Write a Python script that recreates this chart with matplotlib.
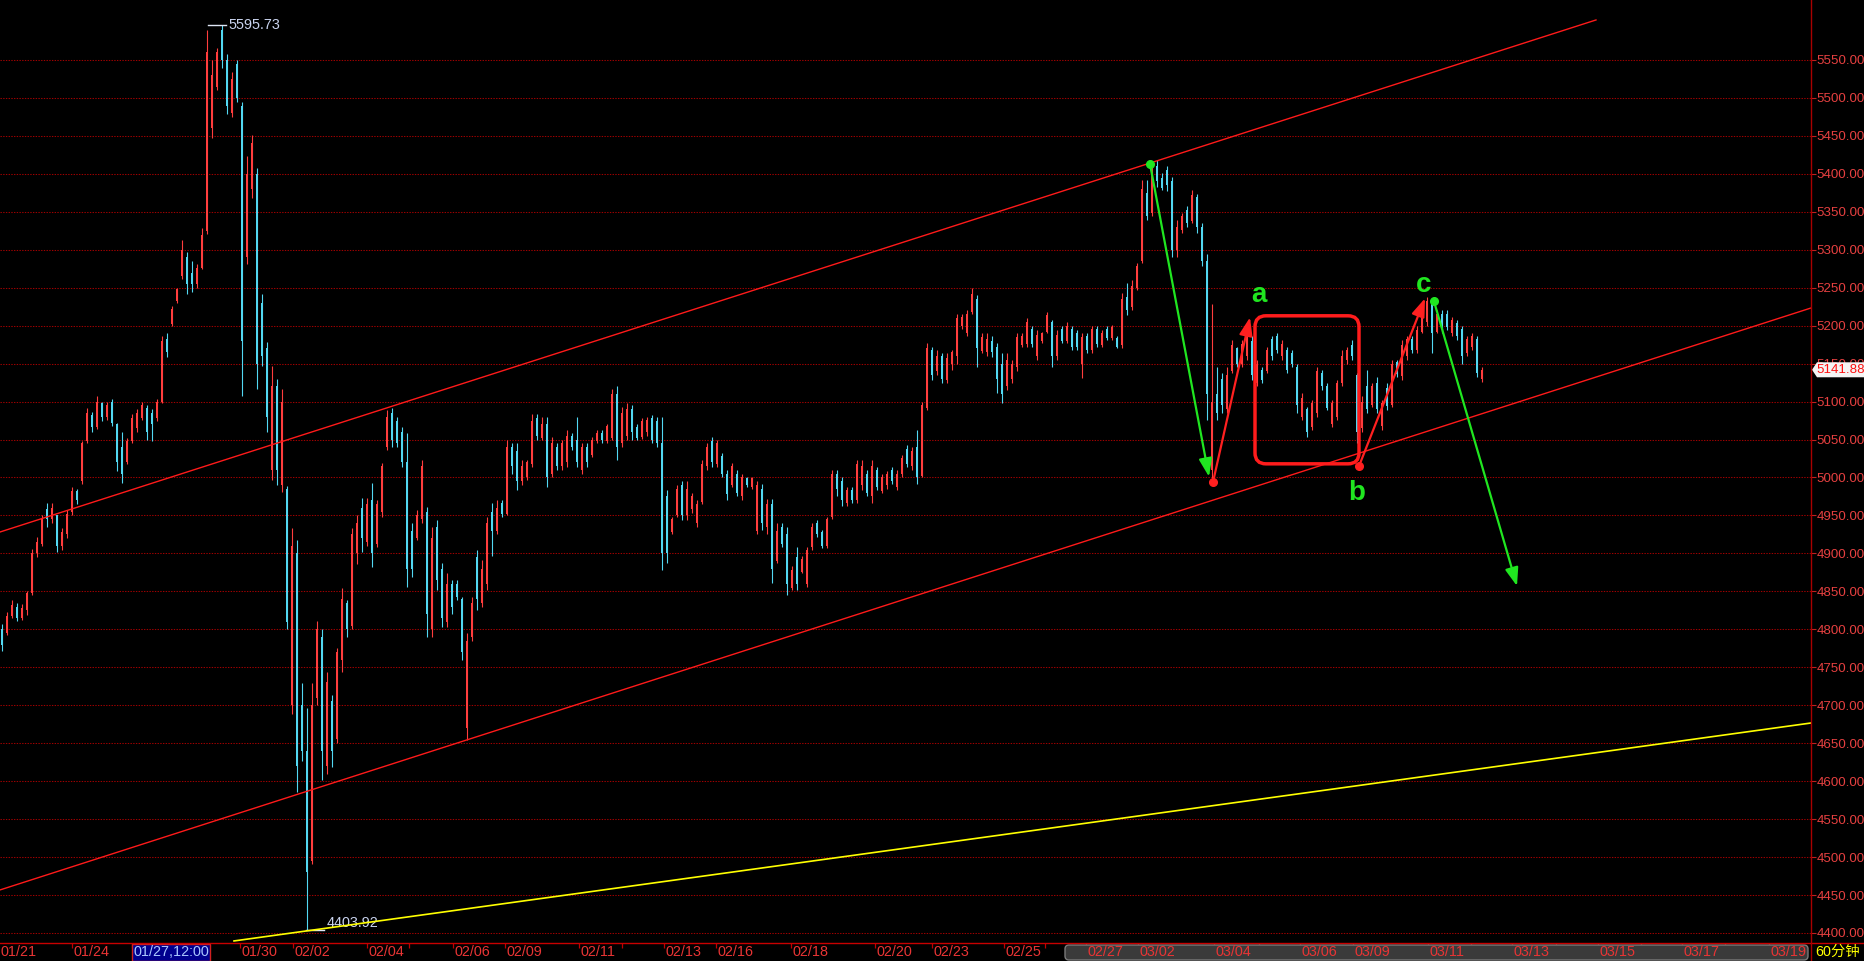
import matplotlib
matplotlib.use('Agg')
import matplotlib.pyplot as plt
import numpy as np
from matplotlib.patches import FancyBboxPatch, Rectangle, Polygon
from matplotlib.lines import Line2D
from matplotlib.ticker import FormatStrFormatter
from matplotlib.transforms import blended_transform_factory, IdentityTransform

plt.rcParams['font.family'] = ['Liberation Sans', 'Noto Sans CJK SC', 'DejaVu Sans']

# ---------------- data (60-minute bars) ----------------
opens = [4800, 4795, 4818, 4830, 4815, 4825, 4848, 4900, 4912, 4958, 4945, 4950, 4910, 4925, 4955, 4982,
         4995, 5048, 5082, 5066, 5098, 5080, 5100, 5070, 5040, 5020, 5048, 5065, 5078, 5092, 5085, 5078,
         5100, 5182, 5202, 5232, 5266, 5290, 5270, 5255, 5276, 5325, 5460, 5515, 5590, 5550, 5480, 5545,
         5490, 5290, 5380, 5400, 5230, 5170, 5010, 5120, 4990, 4985, 4700, 4900, 4700, 4640, 4495, 4710,
         4790, 4620, 4705, 4655, 4760, 4835, 4805, 4900, 4960, 4915, 4970, 4912, 4955, 5040, 5085, 5075,
         5060, 5020, 4930, 4920, 4945, 4955, 4800, 4935, 4880, 4810, 4860, 4860, 4840, 4670, 4790, 4895,
         4835, 4860, 4955, 4930, 4966, 4952, 5040, 5035, 4995, 5000, 5018, 5078, 5052, 5070, 5005, 5040,
         5015, 5020, 5055, 5050, 5010, 5040, 5030, 5048, 5058, 5048, 5052, 5110, 5045, 5055, 5090, 5066,
         5054, 5060, 5078, 5075, 5045, 4975, 4928, 4950, 4990, 4950, 4958, 4940, 4968, 5015, 5048, 5018,
         5028, 5005, 4990, 5005, 4975, 4999, 4988, 4930, 4985, 4935, 4965, 4890, 4935, 4925, 4855, 4895,
         4876, 4860, 4908, 4940, 4928, 4910, 4948, 5005, 4995, 4966, 4984, 4970, 4990, 5005, 4975, 5010,
         4982, 4990, 5010, 4988, 5004, 5038, 5015, 5040, 5002, 5092, 5168, 5140, 5160, 5128, 5150, 5160,
         5200, 5190, 5218, 5235, 5166, 5165, 5180, 5172, 5150, 5120, 5130, 5145, 5175, 5176, 5196, 5160,
         5180, 5192, 5205, 5160, 5195, 5180, 5196, 5190, 5150, 5186, 5168, 5195, 5175, 5195, 5184, 5184,
         5174, 5238, 5225, 5250, 5285, 5375, 5348, 5410, 5395, 5405, 5390, 5300, 5326, 5352, 5338, 5370,
         5330, 5285, 5010, 5110, 5130, 5090, 5140, 5170, 5150, 5160, 5180, 5125, 5142, 5140, 5182, 5186,
         5160, 5168, 5164, 5145, 5080, 5090, 5066, 5085, 5138, 5120, 5070, 5080, 5124, 5155, 5175, 5135,
         5065, 5120, 5095, 5125, 5068, 5118, 5096, 5152, 5134, 5160, 5182, 5168, 5192, 5205, 5230, 5192,
         5215, 5216, 5190, 5204, 5195, 5164, 5172, 5182, 5130]
highs = [4807, 4823, 4839, 4835, 4833, 4851, 4906, 4922, 4950, 4966, 4967, 4950, 4934, 4957, 4987, 4985,
         5048, 5092, 5086, 5108, 5100, 5100, 5104, 5072, 5060, 5052, 5084, 5090, 5100, 5096, 5090, 5104,
         5187, 5190, 5226, 5250, 5313, 5297, 5285, 5281, 5329, 5590, 5550, 5566, 5595.73, 5558, 5534, 5550,
         5495, 5424, 5451, 5408, 5242, 5179, 5147, 5130, 5116, 4989, 4934, 4918, 4729, 4697, 4729, 4811,
         4800, 4744, 4713, 4776, 4855, 4839, 4934, 4950, 4973, 4973, 4993, 4970, 5019, 5089, 5091, 5080,
         5067, 5058, 4940, 4957, 5023, 4961, 4935, 4944, 4887, 4874, 4865, 4865, 4843, 4795, 4843, 4904,
         4891, 4948, 4966, 4970, 4970, 5049, 5045, 5045, 5023, 5023, 5084, 5084, 5080, 5080, 5054, 5045,
         5050, 5062, 5058, 5080, 5045, 5045, 5054, 5062, 5062, 5071, 5117, 5120, 5093, 5098, 5095, 5071,
         5078, 5080, 5082, 5080, 5080, 4983, 4948, 4990, 4996, 4996, 4979, 4970, 5023, 5045, 5054, 5050,
         5032, 5010, 5019, 5010, 5005, 5001, 5001, 4996, 4992, 4972, 4972, 4940, 4940, 4935, 4883, 4909,
         4896, 4909, 4940, 4944, 4931, 4948, 5010, 5010, 5001, 4988, 4988, 5023, 5023, 5010, 5023, 5014,
         5005, 5008, 5014, 5010, 5030, 5043, 5040, 5063, 5100, 5177, 5172, 5168, 5164, 5164, 5168, 5216,
         5216, 5221, 5249, 5240, 5190, 5190, 5186, 5177, 5164, 5164, 5155, 5190, 5190, 5210, 5199, 5194,
         5192, 5218, 5207, 5194, 5199, 5205, 5199, 5194, 5190, 5190, 5199, 5199, 5194, 5199, 5201, 5186,
         5243, 5256, 5260, 5282, 5392, 5392, 5414, 5418, 5401, 5410, 5396, 5339, 5348, 5357, 5379, 5374,
         5335, 5295, 5229, 5146, 5137, 5146, 5181, 5172, 5181, 5190, 5186, 5155, 5146, 5172, 5186, 5190,
         5181, 5172, 5168, 5150, 5111, 5093, 5102, 5146, 5142, 5124, 5102, 5129, 5168, 5172, 5181, 5137,
         5107, 5142, 5124, 5133, 5102, 5124, 5155, 5155, 5181, 5186, 5186, 5199, 5216, 5238, 5234, 5221,
         5221, 5221, 5212, 5208, 5199, 5186, 5190, 5186, 5146]
lows = [4772, 4792, 4815, 4811, 4812, 4819, 4845, 4895, 4910, 4935, 4940, 4902, 4905, 4920, 4950, 4965,
        4992, 5045, 5060, 5064, 5074, 5076, 5068, 5009, 4993, 5018, 5045, 5060, 5076, 5050, 5048, 5075,
        5098, 5159, 5200, 5230, 5262, 5242, 5245, 5250, 5274, 5321, 5447, 5510, 5540, 5479, 5475, 5495,
        5108, 5281, 5368, 5116, 5147, 5060, 4997, 4990, 4981, 4800, 4689, 4586, 4626, 4403.92, 4491, 4700,
        4602, 4610, 4618, 4650, 4744, 4790, 4800, 4886, 4902, 4910, 4882, 4909, 4948, 5036, 5040, 5040,
        5014, 4856, 4869, 4918, 4940, 4790, 4790, 4852, 4803, 4803, 4820, 4838, 4760, 4654, 4785, 4825,
        4830, 4852, 4896, 4926, 4948, 4950, 5005, 4983, 4990, 4997, 5014, 5049, 5049, 4988, 5000, 5010,
        5010, 5014, 5036, 5014, 5005, 5014, 5027, 5045, 5045, 5045, 5049, 5023, 5040, 5049, 5050, 5049,
        5051, 5055, 5045, 5040, 4878, 4887, 4926, 4948, 4944, 4944, 4953, 4935, 4965, 5010, 5014, 5014,
        5001, 4970, 4988, 4975, 4970, 4988, 4985, 4926, 4931, 4926, 4861, 4887, 4909, 4845, 4852, 4852,
        4874, 4856, 4905, 4922, 4907, 4907, 4945, 4975, 4962, 4962, 4966, 4966, 4983, 4975, 4966, 4983,
        4979, 4985, 4992, 4983, 5001, 5014, 5010, 4992, 5000, 5089, 5128, 5135, 5124, 5124, 5142, 5150,
        5195, 5186, 5215, 5146, 5164, 5160, 5159, 5111, 5098, 5115, 5124, 5140, 5172, 5172, 5172, 5155,
        5177, 5190, 5146, 5155, 5177, 5177, 5168, 5168, 5131, 5164, 5164, 5172, 5172, 5181, 5181, 5170,
        5170, 5214, 5221, 5247, 5282, 5339, 5344, 5383, 5379, 5377, 5291, 5291, 5322, 5330, 5335, 5322,
        5278, 5076, 4997, 5076, 5085, 5085, 5137, 5146, 5146, 5155, 5129, 5120, 5124, 5137, 5155, 5164,
        5155, 5137, 5146, 5085, 5076, 5054, 5063, 5080, 5115, 5089, 5067, 5076, 5120, 5150, 5155, 5045,
        5060, 5085, 5093, 5085, 5063, 5089, 5093, 5133, 5129, 5155, 5164, 5164, 5190, 5199, 5164, 5190,
        5190, 5194, 5186, 5181, 5150, 5160, 5168, 5133, 5126]
closes = [4780, 4818, 4832, 4815, 4828, 4848, 4900, 4915, 4945, 4945, 4960, 4910, 4928, 4952, 4982, 4970,
          5045, 5085, 5066, 5100, 5080, 5095, 5072, 5020, 5005, 5048, 5078, 5085, 5096, 5060, 5070, 5100,
          5180, 5165, 5222, 5248, 5300, 5255, 5255, 5276, 5320, 5560, 5530, 5560, 5550, 5490, 5525, 5500,
          5180, 5400, 5440, 5150, 5160, 5080, 5120, 5010, 5100, 4810, 4910, 4620, 4640, 4480, 4700, 4800,
          4640, 4730, 4640, 4770, 4840, 4800, 4925, 4940, 4920, 4965, 4900, 4965, 5015, 5080, 5050, 5045,
          5020, 4880, 4880, 4950, 5015, 4820, 4920, 4865, 4815, 4860, 4830, 4842, 4770, 4785, 4835, 4840,
          4880, 4940, 4930, 4960, 4952, 5040, 5015, 4995, 5015, 5020, 5075, 5055, 5070, 5000, 5045, 5015,
          5045, 5055, 5040, 5020, 5040, 5020, 5050, 5058, 5050, 5068, 5110, 5040, 5085, 5090, 5060, 5052,
          5074, 5076, 5050, 5045, 4900, 4900, 4945, 4985, 4950, 4985, 4975, 4965, 5018, 5040, 5020, 5045,
          5005, 4978, 5015, 4980, 5000, 4990, 4999, 4990, 4940, 4965, 4880, 4930, 4912, 4860, 4878, 4860,
          4892, 4905, 4935, 4925, 4910, 4945, 5005, 4985, 4970, 4984, 4970, 5018, 5015, 4980, 5015, 4988,
          5000, 5004, 4995, 5005, 5026, 5018, 5035, 5000, 5095, 5170, 5135, 5160, 5130, 5158, 5165, 5210,
          5212, 5215, 5242, 5170, 5185, 5182, 5165, 5130, 5110, 5155, 5150, 5185, 5186, 5205, 5176, 5188,
          5190, 5214, 5160, 5188, 5180, 5200, 5172, 5172, 5185, 5168, 5195, 5176, 5190, 5184, 5198, 5172,
          5235, 5220, 5252, 5278, 5380, 5345, 5405, 5390, 5382, 5385, 5300, 5330, 5345, 5335, 5372, 5330,
          5285, 5110, 5100, 5085, 5095, 5135, 5175, 5150, 5176, 5186, 5135, 5150, 5128, 5168, 5160, 5168,
          5176, 5142, 5150, 5095, 5105, 5060, 5098, 5140, 5120, 5092, 5098, 5124, 5160, 5168, 5160, 5060,
          5100, 5090, 5120, 5090, 5098, 5094, 5150, 5136, 5175, 5182, 5168, 5194, 5212, 5232, 5190, 5215,
          5196, 5198, 5208, 5186, 5160, 5182, 5186, 5138, 5141.88]

# date axis: bar index where each day starts, and its label
day_ticks = [-2.6, 14.0, 26.0, 47.6, 58.2, 73.0, 81.4, 90.2, 100.6, 115.4, 124.0, 132.4, 142.8, 157.8,
             174.6, 186.0, 200.4, 208.6, 216.8, 227.2, 242.4, 251.4, 259.6, 270.2, 285.2, 293.8, 302.0,
             310.8, 319.2, 327.8, 336.0, 344.6, 353.4]
day_labels = ["01/21", "01/24", "", "01/30", "02/02", "02/04", "", "02/06", "02/09", "02/11", "",
              "02/13", "02/16", "02/18", "02/20", "02/23", "02/25", "", "02/27", "03/02", "03/04", "",
              "03/06", "03/09", "03/11", "", "03/13", "", "03/15", "", "03/17", "", "03/19"]
price_ticks = [4400, 4450, 4500, 4550, 4600, 4650, 4700, 4750, 4800, 4850, 4900, 4950, 5000, 5050,
               5100, 5150, 5200, 5250, 5300, 5350, 5400, 5450, 5500, 5550]

last_price = 5141.88
cursor_label = "01/27,12:00"
cursor_span = (26.0, 41.6)
period_label = "60分钟"

# hand-drawn annotations (bar index, price)
upper_channel = [(-0.4, 4928.2), (318.8, 5602.7)]
lower_channel = [(-0.4, 4456.7), (361.8, 5223.3)]
support_line = [(46.4, 4389.5), (361.8, 4676.6)]
green_top = (229.6, 5413)
green_tip1 = (241.4, 5001)
red_low = (242.2, 4994)
red_tip_a = (249.6, 5211)
label_a = (251.4, 5231)
box_range = (250.6, 5018, 271.4, 5213)
red_b = (271.4, 5015)
label_b = (271.0, 4970)
red_tip_c = (284.6, 5236)
label_c = (284.4, 5244)
green_c = (286.4, 5232)
green_tip2 = (303.0, 4857)

# ---------------- figure ----------------
W, H = 1865, 961
XLIM = (-0.4, 361.8)
fig = plt.figure(figsize=(W / 100, H / 100), dpi=100, facecolor='black')
ax = fig.add_axes([0, 18 / H, 1811 / W, 943 / H])
ax.set_facecolor('black')
for s in ax.spines.values():
    s.set_visible(False)

UP, DOWN = '#ff3d3d', '#52d8f2'
o = np.array(opens, float); h = np.array(highs, float)
l = np.array(lows, float); c = np.array(closes, float)
x = np.arange(len(o))
cols = np.where(c >= o, UP, DOWN)

# axes / grid
ax.set_yticks(price_ticks)
ax.yaxis.tick_right()
ax.yaxis.set_major_formatter(FormatStrFormatter('%.2f'))
ax.grid(axis='y', color='#a00000', linestyle=(0, (1.3, 1.3)), linewidth=0.75)
ax.set_axisbelow(True)
ax.tick_params(axis='y', right=True, left=False, length=3.6, width=0.8, color='#c02020',
               pad=0.6, labelsize=9.6, labelcolor='#e64040')
ax.set_xticks(day_ticks)
ax.tick_params(axis='x', length=3.5, width=0.9, color='#c00000', labelbottom=False)
ax.set_xlim(*XLIM)
ax.set_ylim(4386.8, 5629.0)

# candles
ax.vlines(x, l, h, colors=cols, linewidth=0.8, zorder=3)
body_lo = np.minimum(o, c)
body_h = np.maximum(np.abs(c - o), 1.5)
ax.bar(x, body_h, bottom=body_lo, width=0.5, color=cols, linewidth=0, zorder=3)

# high / low markers
imax = int(np.argmax(h)); imin = int(np.argmin(l))
ax.plot([imax - 2.8, imax + 0.8], [h[imax], h[imax]], color='#dfe6f5', lw=1.0, zorder=4)
ax.text(imax + 1.2, h[imax], f"{h[imax]:.2f}", color='#c9d3ee', fontsize=10.4, va='center', ha='left')
ax.plot([imin - 0.2, imin + 3.4], [l[imin], l[imin]], color='#dfe6f5', lw=1.0, zorder=4)
ax.text(imin + 4.0, l[imin], f"{l[imin]:.2f}", color='#c9d3ee', fontsize=10.4, va='bottom', ha='left')

# channel lines
for ln, colr, lw in [(upper_channel, '#ff1a1a', 1.0), (lower_channel, '#ff1a1a', 1.0),
                     (support_line, '#ffff00', 1.2)]:
    ax.plot([ln[0][0], ln[1][0]], [ln[0][1], ln[1][1]], color=colr, lw=lw, zorder=5)

GREEN, RED = '#20e620', '#ff2020'
def arrow(p0, p1, colr):
    ax.annotate('', xy=p1, xytext=p0,
                arrowprops=dict(arrowstyle='-|>,head_length=0.55,head_width=0.2', color=colr,
                                lw=1.6, shrinkA=0, shrinkB=0, mutation_scale=20), zorder=6)

arrow(green_top, green_tip1, GREEN)
arrow(red_low, red_tip_a, RED)
arrow(red_b, red_tip_c, RED)
arrow(green_c, green_tip2, GREEN)
ax.plot(*green_top, 'o', color=GREEN, ms=5.5, zorder=7)
ax.plot(*green_c, 'o', color=GREEN, ms=5.5, zorder=7)
ax.plot(*red_low, 'o', color=RED, ms=5.5, zorder=7)
ax.plot(*red_b, 'o', color=RED, ms=5.5, zorder=7)

x0, y0, x1, y1 = box_range
aspect = 1.3173 / 0.2
ax.add_patch(FancyBboxPatch((x0, y0), x1 - x0, y1 - y0,
                            boxstyle='round,pad=0,rounding_size=2.2', mutation_aspect=aspect,
                            fc='none', ec='#ff1c1c', lw=2.5, zorder=6))
for pos, t in [(label_a, 'a'), (label_b, 'b'), (label_c, 'c')]:
    ax.text(pos[0], pos[1], t, color=GREEN, fontsize=20, fontweight='bold',
            ha='center', va='baseline', zorder=8)

# ---------------- bottom date bar ----------------
bt = blended_transform_factory(ax.transData, fig.transFigure)
ax.add_patch(FancyBboxPatch((212.6, 1 / H), 361.2 - 212.6, 15 / H,
                            boxstyle='round,pad=0,rounding_size=0.8', mutation_aspect=(4 / H) / 0.8,
                            transform=bt, fc='#3a3a3a', ec='#7a7a7a', lw=1.0, clip_on=False, zorder=1))
for t, lab in zip(day_ticks, day_labels):
    if lab:
        ax.text(max(t + 0.3, XLIM[0]), 9 / H, lab, transform=bt, ha='left', va='center',
                color='#e83434', fontsize=10.4, clip_on=False, zorder=2)
ax.add_patch(Rectangle((cursor_span[0], 0), cursor_span[1] - cursor_span[0], 17 / H, transform=bt,
                       fc='#00008e', ec='#d02020', lw=1.0, clip_on=False, zorder=3))
ax.text((cursor_span[0] + cursor_span[1]) / 2, 9 / H, cursor_label, transform=bt, ha='center',
        va='center', color='#a9c6ff', fontsize=10.4, clip_on=False, zorder=4)
ax.set_xlim(*XLIM)

fig.add_artist(Line2D([0, 1], [18 / H, 18 / H], color='#c80000', lw=1.0))
fig.add_artist(Line2D([1811 / W, 1811 / W], [0, 1], color='#a80000', lw=1.0))
fig.text(1838 / W, 9 / H, period_label, color='#ffff00', fontsize=10.4, ha='center', va='center')

# last price tag
fig.canvas.draw()
yc = ax.transData.transform((0, last_price))[1]
tag = Polygon([[1812, yc], [1817, yc - 7.5], [1866, yc - 7.5], [1866, yc + 7.5], [1817, yc + 7.5]],
              closed=True, fc='#f4f4f4', ec='none', transform=IdentityTransform())
fig.add_artist(tag)
fig.text(1816.5, yc, f"{last_price:.2f}", transform=IdentityTransform(), color='#ff1010',
         fontsize=9.6, ha='left', va='center')

fig.savefig('out.png', dpi=100, facecolor='black')
